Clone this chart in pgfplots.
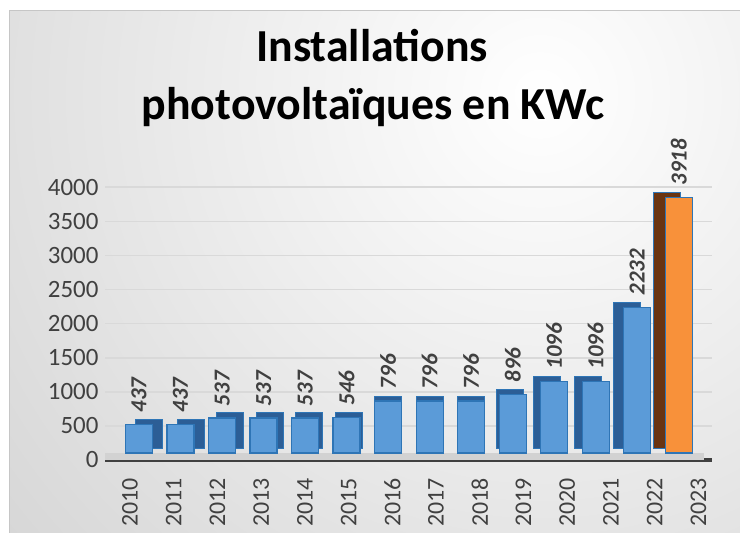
\documentclass[border=0pt]{standalone}
\usepackage{fontspec}
\setmainfont{Carlito}
\usepackage{pgfplots}
\pgfplotsset{compat=1.18}
\definecolor{frontblue}{HTML}{5B9BD8}
\definecolor{lineblue}{HTML}{2E75B6}
\definecolor{sideblue}{HTML}{2C5E96}
\definecolor{frontorange}{HTML}{F8913A}
\definecolor{sideorange}{HTML}{6A3411}
\definecolor{txtgray}{HTML}{404040}
\definecolor{gridgray}{HTML}{D9D9D9}
\pgfplotsset{
  side/.style={ybar, bar width=27bp, fill=sideblue, draw=lineblue, line width=1bp, yshift=5bp},
  front/.style={ybar, bar width=27bp, draw=lineblue, line width=1.3bp,
    nodes near coords,
    every node near coord/.style={yshift=8bp, rotate=90, anchor=west,
      font=\fontsize{23}{23}\selectfont\bfseries\itshape, text=txtgray}},
}
\begin{document}
\begin{tikzpicture}
\useasboundingbox (0bp,0bp) rectangle (740bp,535bp);
\fill[white] (0bp,0bp) rectangle (740bp,535bp);
\begin{scope}
\clip (9bp,2bp) rectangle (740bp,524bp);
\shade[inner color=white, outer color=gray!50] (540bp,440bp) circle (1100bp);
\end{scope}
\draw[gray!45, line width=1bp] (9bp,2bp) -- (9bp,524bp) -- (740bp,524bp);
\node[anchor=base, font=\fontsize{46}{56}\selectfont\bfseries] at (372bp,473bp) {Installations};
\node[anchor=base, font=\fontsize{46}{56}\selectfont\bfseries] at (373bp,415bp) {photovoltaïques en KWc};
\begin{axis}[
  at={(105bp,75bp)}, anchor=south west, scale only axis,
  width=607bp, height=274.5bp,
  xmin=-0.82, xmax=13.8, ymin=-107, ymax=4100,
  clip=false,
  axis line style={draw=none},
  major tick length=0pt,
  ytick={-107,415.6,938.2,1460.8,1983.4,2506,3028.6,3551.2,4073.8},
  yticklabels={0,500,1000,1500,2000,2500,3000,3500,4000},
  xtick={-0.217,0.836,1.889,2.942,3.995,5.048,6.101,7.154,8.207,9.260,10.313,11.366,12.419,13.472},
  xticklabels={2010,2011,2012,2013,2014,2015,2016,2017,2018,2019,2020,2021,2022,2023},
  yticklabel style={font=\fontsize{25}{25}\selectfont, text=txtgray, anchor=east, xshift=-3bp},
  xticklabel style={font=\fontsize{24}{24}\selectfont, text=txtgray, yshift=-15bp, rotate=90, anchor=east},
  ymajorgrids,
  grid style={line width=1.6bp, color=gridgray},
  extra y ticks={-107},
  extra y tick labels={},
  extra y tick style={grid style={line width=3bp, color=black!75}},
  /pgf/number format/assume math mode=true,
  /pgf/number format/1000 sep={},
]
\fill[gray!35] (axis cs:-0.82,-107) rectangle (axis cs:13.6,0);
\addplot[side, xshift=10bp] coordinates {(0,437) (1,437)};
\addplot[side, xshift=8bp] coordinates {(2,537)};
\addplot[side, xshift=6bp] coordinates {(3,537)};
\addplot[side, xshift=4bp] coordinates {(4,537)};
\addplot[side, xshift=2bp] coordinates {(5,546)};
\addplot[side, xshift=0bp] coordinates {(6,796) (7,796) (8,796)};
\addplot[side, xshift=-3bp] coordinates {(9,896)};
\addplot[side, xshift=-7bp] coordinates {(10,1096)};
\addplot[side, xshift=-8bp] coordinates {(11,1096)};
\addplot[side, xshift=-10bp] coordinates {(12,2232)};
\addplot[side, fill=sideorange, xshift=-12bp] coordinates {(13,3918)};
\addplot[front, fill=frontblue]
  coordinates {(0,437) (1,437) (2,537) (3,537) (4,537) (5,546) (6,796) (7,796) (8,796) (9,896) (10,1096) (11,1096) (12,2232)};
\addplot[front, fill=frontorange]
  coordinates {(13,3918)};
\end{axis}
\end{tikzpicture}
\end{document}
